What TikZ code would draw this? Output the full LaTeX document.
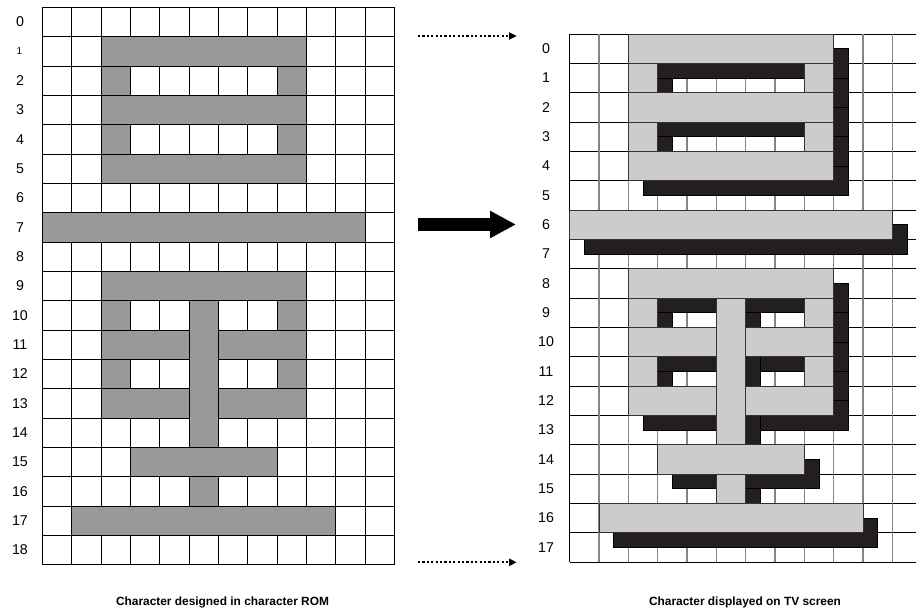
\documentclass[tikz,border=0pt]{standalone}
\usepackage{fontspec}
\setmainfont{Liberation Sans}
\usetikzlibrary{arrows.meta}
\definecolor{romgray}{HTML}{999999}
\definecolor{tvlight}{HTML}{CCCCCC}
\definecolor{tvdark}{HTML}{231F20}
\definecolor{gridgray}{HTML}{858585}
\begin{document}
\begin{tikzpicture}[x=1pt,y=-1pt,
  gridline/.style={draw=black,line width=0.8pt},
  vgridline/.style={draw=gridgray,line width=1.2pt},
  romcell/.style={fill=romgray,draw=black,line width=0.7pt},
  tvcell/.style={fill=tvlight,draw=black!80,line width=0.7pt},
  tvshadow/.style={fill=tvdark,draw=black,line width=0.7pt},
  lbl/.style={font=\fontsize{14.2}{16}\selectfont,anchor=center},
  captext/.style={font=\bfseries\fontsize{11.9}{14}\selectfont,anchor=center},
  dotarrow/.style={line width=1.7pt,dash pattern=on 2.2pt off 2.2pt,-{Triangle[length=7.5pt,width=7pt]}},
  bigarrow/.style={line width=13.4pt,-{Triangle[length=26pt,width=25.6pt]}}]
\clip (0,0) rectangle (916,616);
\fill[white] (0,0) rectangle (916,616);

% ---------- left grid (character ROM) ----------
\begin{scope}[shift={(42.3,7.3)},x=29.33pt,y=-29.33pt]
  \foreach \i in {0,...,19} \draw[gridline] (0,\i) -- (12,\i);
  \foreach \j in {0,...,12} \draw[gridline] (\j,0) -- (\j,19);
  \filldraw[romcell] (5,10) rectangle (6,17);
  \foreach \a/\b/\c/\d in {2/1/9/2, 2/2/3/3, 8/2/9/3, 2/3/9/4, 2/4/3/5, 8/4/9/5, 2/5/9/6,
      0/7/11/8, 2/9/9/10, 2/10/3/11, 8/10/9/11, 2/11/5/12, 6/11/9/12,
      2/12/3/13, 8/12/9/13, 2/13/5/14, 6/13/9/14, 3/15/8/16, 1/17/10/18}
    \filldraw[romcell] (\a,\b) rectangle (\c,\d);
\end{scope}

% ---------- right grid (TV screen) ----------
\begin{scope}[shift={(569.7,34)},x=29.33pt,y=-29.33pt]
  \foreach \i in {0,...,18} \draw[gridline] (0,\i) -- (12,\i);
  \foreach \j in {1,...,12} \draw[vgridline] (\j,0) -- (\j,18);
  \draw[gridline] (0,0) -- (0,18);
  % shadows
  \foreach \a/\b/\c/\d in {5/9/6/16, 2/0/9/1, 2/1/3/2, 8/1/9/2, 2/2/9/3, 2/3/3/4, 8/3/9/4, 2/4/9/5,
      0/6/11/7, 2/8/9/9, 2/9/3/10, 8/9/9/10, 2/10/5/11, 6/10/9/11,
      2/11/3/12, 8/11/9/12, 2/12/5/13, 6/12/9/13, 3/14/8/15, 1/16/10/17}
    \filldraw[tvshadow] (\a+0.5,\b+0.5) rectangle (\c+0.5,\d+0.5);
  % light cells
  \filldraw[tvcell] (5,9) rectangle (6,16);
  \foreach \a/\b/\c/\d in {2/0/9/1, 2/1/3/2, 8/1/9/2, 2/2/9/3, 2/3/3/4, 8/3/9/4, 2/4/9/5,
      0/6/11/7, 2/8/9/9, 2/9/3/10, 8/9/9/10, 2/10/5/11, 6/10/9/11,
      2/11/3/12, 8/11/9/12, 2/12/5/13, 6/12/9/13, 3/14/8/15, 1/16/10/17}
    \filldraw[tvcell] (\a,\b) rectangle (\c,\d);
\end{scope}

% ---------- row labels ----------
\node[lbl] (L0) at (20,{7.3+0.5*29.33}) {0};
\node[font=\fontsize{10}{12}\selectfont] (L1) at (19.5,{7.3+1.5*29.33}) {1};
\foreach \r in {2,...,18}
  \node[lbl] (L\r) at (20,{7.3+(\r+0.5)*29.33}) {\r};
\foreach \r in {0,...,17}
  \node[lbl] (R\r) at (546,{34+(\r+0.5)*29.33}) {\r};

% ---------- arrows ----------
\coordinate (dta) at (418,36);
\coordinate (dtb) at (516.7,36);
\coordinate (dba) at (418,562.3);
\coordinate (dbb) at (516.7,562.3);
\coordinate (ta) at (418.3,224.5);
\coordinate (tb) at (516,224.5);
\draw[dotarrow] (dta) -- (dtb);
\draw[dotarrow] (dba) -- (dbb);
\draw[bigarrow] (ta) -- (tb);

% ---------- captions ----------
\node[captext] (capL) at (222.5,602) {Character designed in character ROM};
\node[captext] (capR) at (745,602) {Character displayed on TV screen};
\end{tikzpicture}
\end{document}
